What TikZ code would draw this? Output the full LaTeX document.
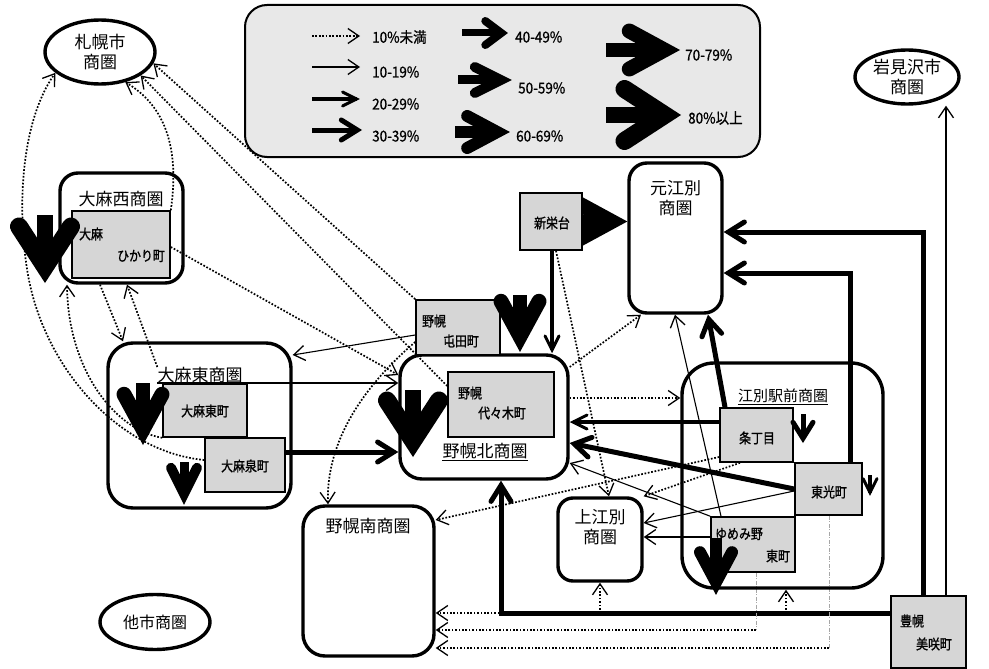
\documentclass[tikz,border=0pt]{standalone}
\usepackage{fontspec}
\setmainfont{Noto Sans CJK JP}
\newfontfamily\cnd[FakeStretch=0.85,FakeBold=1.2]{Noto Sans CJK JP}
\newfontfamily\lgf[FakeStretch=0.9,FakeBold=0.8]{Noto Sans CJK JP}
\usetikzlibrary{shapes.geometric,arrows.meta,decorations.markings}
\pgfdeclarelayer{lines}
\pgfsetlayers{lines,main}
\tikzset{
  area/.style={draw, line width=3.4pt, rounded corners=#1, inner sep=0pt},
  ell/.style={draw, ellipse, line width=3.4pt, inner sep=0pt, align=center, font=\fontsize{17}{20}\selectfont},
  gbox/.style={draw, line width=1.6pt, fill=gray!32, inner sep=0pt},
  ttl/.style={font=\fontsize{17}{20}\selectfont, inner sep=0pt, align=center},
  gtx/.style={font=\cnd\fontsize{14}{16}\selectfont, inner sep=0pt},
  lgt/.style={font=\lgf\fontsize{15}{17}\selectfont, inner sep=0pt, anchor=west},
  thinhead/.style={-{Straight Barb[length=11pt,width=15pt,line width=1.3pt]}},
  p10/.style={thinhead, line width=1.7pt, dash pattern=on 1.7pt off 1.7pt},
  p19/.style={thinhead, line width=1.1pt},
  chev/.style n args={5}{line width=#4, shorten >=#5,
    postaction={decorate, decoration={markings, mark=at position 1 with {%
      \draw[solid, line width=#3, line cap=round, line join=miter, shorten >=0pt, shorten <=0pt]
        (-#1-#5,#2) -- (-#5,0) -- (-#1-#5,-#2);}}}},
  p29/.style={chev={14pt}{7pt}{3pt}{3.5pt}{3.4pt}},
  p39/.style={chev={16pt}{10pt}{5pt}{5pt}{4.7pt}},
  p49/.style={chev={16pt}{12pt}{8pt}{7pt}{6.7pt}},
  p59/.style={chev={26pt}{13pt}{10pt}{9pt}{11.2pt}},
  p69/.style={chev={30pt}{16pt}{12pt}{11pt}{12.8pt}},
  p79/.style={chev={35pt}{19pt}{15pt}{14pt}{15.7pt}},
  p80/.style={chev={40pt}{26pt}{18pt}{16pt}{16.5pt}},
  grayline/.style={gray!70, line width=0.8pt, dash pattern=on 4pt off 1.5pt on 1pt off 1.5pt},
}
\begin{document}
\begin{tikzpicture}[x=1pt,y=-1pt]
\useasboundingbox (0,0) rectangle (989,669);

% ---------- legend ----------
\node[draw, line width=2pt, fill=gray!18, rounded corners=22pt, minimum width=515pt, minimum height=152pt, inner sep=0pt] (leg) at (502.5,81) {};
\draw[p10] (312,36) -- (360,36);
\draw[p19] (312,67) -- (360,67);
\draw[p29] (312,99) -- (360,99);
\draw[p39] (312,130) -- (362,130);
\draw[p49] (462,33) -- (508,33);
\draw[p59] (458,80) -- (512,80);
\draw[p69] (455,132) -- (510,132);
\draw[p79] (606,50) -- (680,50);
\draw[p80] (606,115) -- (681,115);
\node[lgt] (l1) at (372,37) {10\%未満};
\node[lgt] (l2) at (372,72) {10-19\%};
\node[lgt] (l3) at (372,104) {20-29\%};
\node[lgt] (l4) at (372,136) {30-39\%};
\node[lgt] (l5) at (515,37) {40-49\%};
\node[lgt] (l6) at (518,88) {50-59\%};
\node[lgt] (l7) at (516,136) {60-69\%};
\node[lgt] (l8) at (685,55) {70-79\%};
\node[lgt] (l9) at (688,118) {80\%以上};

% ---------- outer trade areas ----------
\node[ell, minimum width=110pt, minimum height=64pt] (sap) at (100,52) {札幌市\\商圏};
\node[ell, minimum width=104pt, minimum height=54pt] (iwa) at (907,77) {岩見沢市\\商圏};
\node[ell, minimum width=110pt, minimum height=55pt, font=\fontsize{16}{19}\selectfont] (tas) at (155,622) {他市商圏};

% ---------- areas ----------
\node[area=18pt, minimum width=123pt, minimum height=110pt] (onw) at (121.5,228) {};
\node[area=25pt, minimum width=183pt, minimum height=165pt] (one) at (199.5,425.5) {};
\node[area=22pt, minimum width=168pt, minimum height=124pt] (npn) at (484,417) {};
\node[area=18pt, minimum width=93pt, minimum height=150pt] (mot) at (675.5,238) {};
\node[area=32pt, minimum width=201pt, minimum height=225pt] (eki) at (782.5,475.5) {};
\node[area=15pt, minimum width=84pt, minimum height=83pt] (kam) at (600,539.5) {};
\node[area=22pt, minimum width=131pt, minimum height=150pt] (nps) at (368.5,581) {};

\node[ttl] (onwT) at (121,199) {大麻西商圏};
\node[ttl] (oneT) at (200,375) {大麻東商圏};
\node[ttl] (npnT) at (485,451) {野幌北商圏};
\draw[line width=1.2pt] ([yshift=-1.5pt]npnT.south west) -- ([yshift=-1.5pt]npnT.south east);
\node[ttl] (motT) at (675.5,198) {元江別\\商圏};
\node[ttl, font=\fontsize{15}{18}\selectfont] (ekiT) at (783,396) {江別駅前商圏};
\draw[line width=1.2pt] ([yshift=-1.5pt]ekiT.south west) -- ([yshift=-1.5pt]ekiT.south east);
\node[ttl] (kamT) at (600,527) {上江別\\商圏};
\node[ttl] (npsT) at (368,526) {野幌南商圏};

% ---------- district boxes ----------
\node[gbox, minimum width=98pt, minimum height=67pt] (hik) at (121,244.5) {};
\node[gtx] (hikA) at (91,234) {大麻};
\node[gtx] (hikB) at (141,256) {ひかり町};
\node[gbox, minimum width=84pt, minimum height=53pt] (oe1) at (205,410.5) {};
\node[gtx] (oe1A) at (205,411) {大麻東町};
\node[gbox, minimum width=80pt, minimum height=54pt] (oe2) at (245,465) {};
\node[gtx] (oe2A) at (245,466) {大麻泉町};
\node[gbox, minimum width=106pt, minimum height=65pt] (yoy) at (501,404.5) {};
\node[gtx] (yoyA) at (470,393) {野幌};
\node[gtx] (yoyB) at (502,413) {代々木町};
\node[gbox, minimum width=84pt, minimum height=55pt] (ton) at (458,327.5) {};
\node[gtx] (tonA) at (434,321) {野幌};
\node[gtx] (tonB) at (461,341) {屯田町};
\node[gbox, minimum width=62pt, minimum height=57pt] (sin) at (551,221.5) {};
\node[gtx] (sinA) at (552,223) {新栄台};
\node[gbox, minimum width=73pt, minimum height=54pt] (jo) at (756.5,435) {};
\node[gtx] (joA) at (757,438) {条丁目};
\node[gbox, minimum width=67pt, minimum height=52pt] (tok) at (828.5,489) {};
\node[gtx] (tokA) at (829,492) {東光町};
\node[gbox, minimum width=84pt, minimum height=55pt] (yum) at (753,544.5) {};
\node[gtx] (yumA) at (739,534) {ゆめみ野};
\node[gtx] (yumB) at (778,556) {東町};
\node[gbox, minimum width=75pt, minimum height=72pt] (toy) at (928.5,632) {};
\node[gtx] (toyA) at (912,621) {豊幌};
\node[gtx] (toyB) at (934,644) {美咲町};

% ---------- connectors ----------
\begin{pgfonlayer}{lines}
\draw[p10] (oe2.west |- 0,460) .. controls (120,452) and (45,370) .. (28,275) .. controls (16,205) and (22,120) .. (sap.205);
\draw[p10] (oe1.south west) .. controls (115,430) and (68,370) .. (onw.south -| 67,0);
\draw[p10] (hik.north east) .. controls (178,160) and (172,110) .. (sap.-50);
\draw[p10] (yoy.west |- 0,386) -- (sap.-30);
\draw[p10] (ton.north west) -- (sap.-12);
\draw[p10] (hik.east |- 0,247) -- (npn.west |- 0,375);
\draw[p10] (onw.south -| 100,0) -- (one.north -| 123,0);
\draw[p10] (oneT.north west) -- (onw.south -| 127,0);
\draw[p19] (ton.west |- 0,335) -- (one.east |- 0,355);
\draw[p19] (oneT.west |- 0,383) -- (npn.west |- 0,383);
\draw[p39] (oe2.east |- 0,452) -- (npn.west |- 0,452);
\draw[p10] (ton.west |- 0,342) .. controls (365,385) and (326,440) .. (nps.north -| 328,0);

\draw[p29] (sin.south -| 552,0) -- (npn.north -| 552,0);
\draw[p10] (sin.south -| 556,0) -- (kam.north -| 609,0);
\draw[p79] (sin.east) -- (mot.west |- sin.east);
\draw[p10] (npn.east |- 0,367) -- (mot.south -| 641,0);
\draw[p10] (npn.east |- 0,398) -- (eki.west |- 0,398);
\draw[p19] (yum.north -| 721,0) -- (mot.south -| 675,0);
\draw[p39] (jo.north -| 725,0) -- (mot.south -| 708,0);
\draw[p39] (toy.north -| 923,0) |- (mot.east |- 0,232);
\draw[p39] (tok.north -| 850,0) |- (mot.east |- 0,273);
\draw[p19] (toy.north -| 946,0) -- (iwa.south -| 946,0);
\draw[p29] (jo.west |- 0,422) -- (npn.east |- 0,422);
\draw[p39] (tok.west |- 0,489) -- (npn.east |- 0,443);
\draw[p19] (yum.north west) -- (npn.east |- 0,463);
\draw[p10] (jo.west |- 0,457) -- (nps.east |- 0,520);
\draw[p10] (jo.south -| 740,0) -- (kam.north east);
\draw[p19] (tok.west |- 0,491) -- (kam.east |- 0,523);
\draw[p19] (yum.west |- 0,537) -- (kam.east |- 0,537);

\coordinate (tl) at (toy.west |- 0,613);
\draw[p10] (tl) -- (nps.east |- tl);
\draw[p10] (kam.south |- tl) -- (kam.south);
\draw[p10] (tl -| 786,0) -- (eki.south -| 786,0);
\draw[p39] (tl) -| (npn.south -| 501,0);
\coordinate (k30) at (756,630);
\draw[grayline] (yum.south -| k30) -- (k30);
\draw[p10] (k30) -- (nps.east |- k30);
\coordinate (k31) at (829,648);
\draw[grayline] (tok.south -| k31) -- (k31);
\draw[p10] (k31) -- (nps.east |- k31);
\end{pgfonlayer}

% ---------- retention arrows ----------
\draw[p80] (45,215) -- (45,283);
\draw[p79] (143,383) -- (143,445);
\draw[p59] (184,462) -- (184,505);
\draw[p80] (413,390) -- (413,457);
\draw[p79] (520,295) -- (520,352);
\draw[p69] (716,538) -- (716,595);
\draw[p39] (803,414) -- (803,443);
\draw[p29] (870,475) -- (870,496);
\end{tikzpicture}
\end{document}
